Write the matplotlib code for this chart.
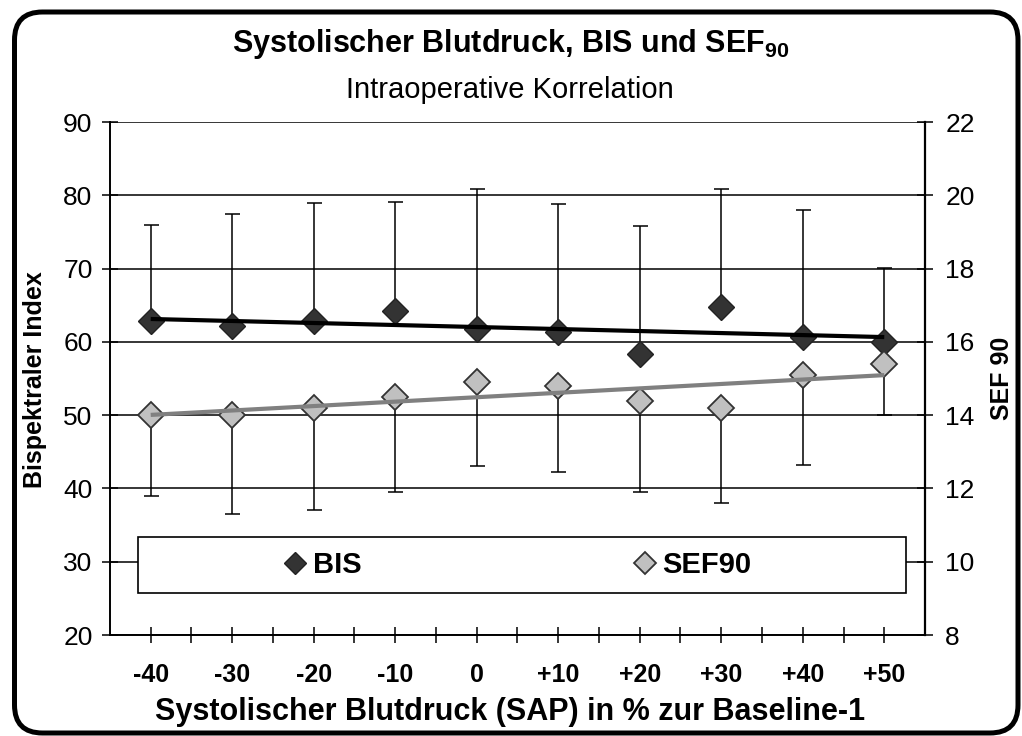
import matplotlib
matplotlib.use("Agg")
import matplotlib.pyplot as plt
import numpy as np
from matplotlib.patches import FancyBboxPatch, Rectangle
from matplotlib.transforms import IdentityTransform
from matplotlib.ticker import FixedLocator

plt.rcParams['font.family'] = ['Liberation Sans', 'DejaVu Sans']
plt.rcParams['mathtext.fontset'] = 'custom'
plt.rcParams['mathtext.rm'] = 'Liberation Sans'
plt.rcParams['mathtext.bf'] = 'Liberation Sans:bold'

# SAP-Abweichung zur Baseline-1 (in %)
categories = ['-40', '-30', '-20', '-10', '0', '+10', '+20', '+30', '+40', '+50']
# BIS: Mittelwert und SD (nur nach oben gezeichnet)
bis_mean = [62.9, 62.1, 62.9, 64.2, 61.7, 61.4, 58.4, 64.7, 60.6, 60.0]
bis_sd = [13.0, 15.4, 16.0, 14.9, 19.1, 17.4, 17.4, 16.1, 17.4, 10.1]
# SEF90: Mittelwert und SD (nur nach unten gezeichnet)
sef_mean = [14.0, 14.0, 14.2, 14.5, 14.9, 14.8, 14.4, 14.2, 15.1, 15.4]
sef_sd = [2.2, 2.7, 2.8, 2.6, 2.3, 2.35, 2.5, 2.6, 2.45, 1.4]

x = np.arange(len(categories)) + 0.5
bis_mean = np.array(bis_mean)
sef_mean = np.array(sef_mean)
zeros = np.zeros(len(categories))

fig = plt.figure(figsize=(10.22, 7.36), dpi=100)
ax = fig.add_axes([0.1076, 0.1372, 0.7975, 0.6970])
ax2 = ax.twinx()

# BIS (linke Achse)
ax.errorbar(x, bis_mean, yerr=[zeros, bis_sd], fmt='none', ecolor='black',
            elinewidth=1.1, capsize=5.4, capthick=1.1, zorder=2)
bis_pts, = ax.plot(x, bis_mean, 'D', ms=13.7, mfc='#333333', mec='#222222',
                   mew=1.0, ls='none', zorder=3, label='BIS')
k, d = np.polyfit(x, bis_mean, 1)
ax.plot([x[0], x[-1]], [k * x[0] + d, k * x[-1] + d], color='black', lw=3.0,
        solid_capstyle='butt', zorder=4)

# SEF90 (rechte Achse)
ax2.errorbar(x, sef_mean, yerr=[sef_sd, zeros], fmt='none', ecolor='black',
             elinewidth=1.1, capsize=5.4, capthick=1.1, zorder=2)
sef_pts, = ax2.plot(x, sef_mean, 'D', ms=13.7, mfc='#c0c0c0', mec='#333333',
                    mew=1.3, ls='none', zorder=3, label='SEF90')
k2, d2 = np.polyfit(x, sef_mean, 1)
ax2.plot([x[0], x[-1]], [k2 * x[0] + d2, k2 * x[-1] + d2], color='#808080', lw=3.0,
         solid_capstyle='butt', zorder=4)

# Achsen
ax.set_xlim(0, 10)
ax.set_ylim(20, 90)
ax2.set_ylim(8, 22)
ax.set_yticks(np.arange(20, 91, 10))
ax2.set_yticks(np.arange(8, 23, 2))
ax.set_xticks(x)
ax.set_xticklabels(categories, fontsize=18, fontweight='bold')
ax.xaxis.set_minor_locator(FixedLocator(np.arange(1, 10)))
ax.tick_params(axis='x', which='both', direction='inout', length=11, width=1.1,
               pad=15)
ax.tick_params(axis='y', direction='inout', length=11, width=1.1, pad=7,
               labelsize=19)
ax2.tick_params(axis='y', direction='inout', length=11, width=1.1, pad=9,
                labelsize=19)

ax.yaxis.grid(True, color='black', lw=1.1)
ax.set_axisbelow(True)
for s in ['top', 'right']:
    ax.spines[s].set_visible(False)
for s in ['top', 'left', 'bottom']:
    ax2.spines[s].set_visible(False)
ax.spines['left'].set_linewidth(1.4)
ax.spines['bottom'].set_linewidth(1.4)
ax2.spines['right'].set_linewidth(1.6)

ax.set_xlabel('Systolischer Blutdruck (SAP) in % zur Baseline-1', fontsize=22,
              fontweight='bold')
ax.xaxis.set_label_coords(0.491, -0.121)
ax.set_ylabel('Bispektraler Index', fontsize=18, fontweight='bold')
ax.yaxis.set_label_coords(-0.077, 0.497)
ax2.set_ylabel('SEF 90', fontsize=18, fontweight='bold')
ax2.yaxis.set_label_coords(1.08, 0.5)

# Legende
ax2.add_patch(Rectangle((0.0344, 0.0819), 0.9426, 0.1092, transform=ax2.transAxes,
                        facecolor='white', edgecolor='black', lw=1.2, zorder=6,
                        clip_on=False))
leg = ax2.legend(handles=[bis_pts, sef_pts], loc='center',
                 bbox_to_anchor=(0.5, 0.1365), ncol=2, frameon=False,
                 prop={'size': 21, 'weight': 'bold'}, markerscale=0.82,
                 handlelength=0.8, handletextpad=0.2, columnspacing=9.3,
                 borderpad=0.1)
leg.set_zorder(7)

# Titel
fig.text(0.5, 1 - 52 / 736, r'Systolischer Blutdruck, BIS und SEF$_\mathbf{90}$',
         ha='center', va='baseline', fontsize=22, fontweight='bold')
fig.text(0.499, 1 - 98 / 736, 'Intraoperative Korrelation', ha='center',
         va='baseline', fontsize=21)

# abgerundeter Rahmen
frame = FancyBboxPatch((14.5, 3), 1003.5, 721, boxstyle='round,pad=0,rounding_size=28',
                       transform=IdentityTransform(), facecolor='none',
                       edgecolor='black', lw=3.6)
fig.patches.append(frame)

fig.savefig('out.png', dpi=100)
